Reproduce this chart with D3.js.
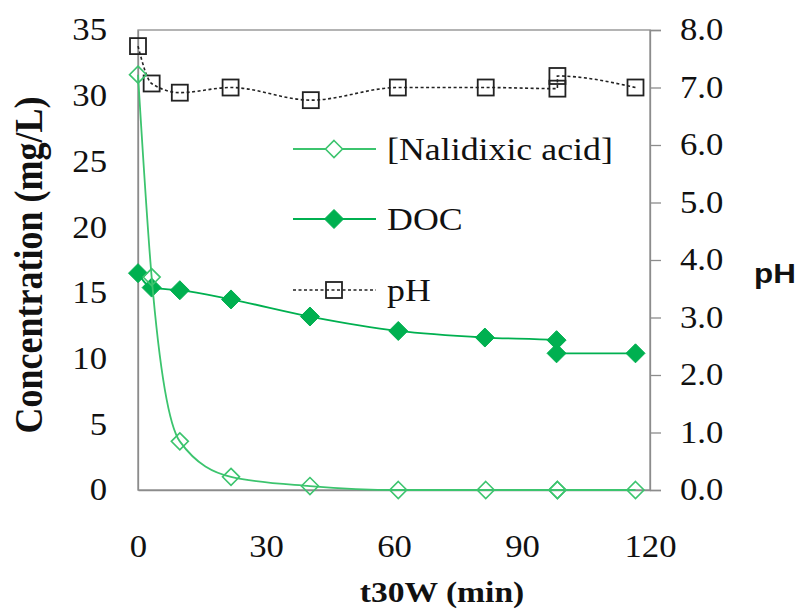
<!DOCTYPE html>
<html>
<head>
<meta charset="utf-8">
<script src="https://d3js.org/d3.v7.min.js"></script>
<style>
  body { margin: 0; background: #fff; }
</style>
</head>
<body>
<div id="chart"></div>
<script>
// sampling times (min)
var tNal = [0, 3.2, 9.8, 21.8, 40.3, 61, 81.5, 98.3, 98.3, 116.6];
var nal  = [31.6, 16.2, 3.7, 1.0, 0.3, 0, 0, 0, 0, 0];
var tDoc = [0, 3.2, 9.8, 21.8, 40.3, 61, 81.3, 98.1, 98.1, 116.6];
var doc  = [16.5, 15.4, 15.2, 14.5, 13.2, 12.1, 11.6, 11.4, 10.4, 10.4];
var tPh  = [0, 3.2, 9.8, 21.7, 40.5, 60.9, 81.5, 98.3, 98.3, 116.6];
var ph   = [7.72, 7.07, 6.91, 7.0, 6.78, 7.0, 7.0, 6.98, 7.2, 7.0];

var xTicks = [0, 30, 60, 90, 120];
var yTicks = [0, 5, 10, 15, 20, 25, 30, 35];
var phTicks = [0, 1, 2, 3, 4, 5, 6, 7, 8];
var legendNames = ["[Nalidixic acid]", "DOC", "pH"];

var W = 799, H = 609;
var m = {top: 30, right: 149, bottom: 120, left: 138};
var SX = 1.12; // text in the picture is a bit wide
var SERIF = "'Liberation Serif', 'Times New Roman', Times, serif";

var green = "#00b050", green2 = "#3cc46e", axisCol = "#8c8c8c";

var svg = d3.select("#chart").append("svg")
  .attr("width", W).attr("height", H);

var x = d3.scaleLinear().domain([0, 120]).range([m.left, W - m.right]);
var y = d3.scaleLinear().domain([0, 35]).range([H - m.bottom + 1, m.top]);
var y2 = d3.scaleLinear().domain([0, 8]).range([H - m.bottom + 1, m.top]);

function serifText(sel, size) {
  sel.style("font-family", SERIF).style("font-size", size + "px").attr("fill", "#111");
}

// plot frame
svg.append("rect")
  .attr("x", x(0)).attr("y", y(35))
  .attr("width", x(120) - x(0)).attr("height", y(0) - y(35))
  .attr("fill", "none").attr("stroke", axisCol).attr("stroke-width", 1.3);

// left axis
var gl = svg.append("g").attr("transform", "translate(" + x(0) + ",0)")
  .call(d3.axisLeft(y).tickValues(yTicks).tickSize(0));
gl.select(".domain").attr("stroke", axisCol).attr("stroke-width", 1.3);
gl.selectAll("text").call(serifText, 31)
  .attr("x", -31 / SX).attr("transform", "scale(" + SX + ",1)");

// right axis
var gr = svg.append("g").attr("transform", "translate(" + x(120) + ",0)")
  .call(d3.axisRight(y2).tickValues(phTicks).tickFormat(d3.format(".1f")).tickSize(11));
gr.select(".domain").attr("stroke", axisCol).attr("stroke-width", 1.3);
gr.selectAll("line").attr("stroke", axisCol).attr("stroke-width", 1.3);
gr.selectAll("text").call(serifText, 31)
  .attr("x", 30 / SX).attr("transform", "scale(" + SX + ",1)");

// bottom axis
var gb = svg.append("g").attr("transform", "translate(0," + y(0) + ")")
  .call(d3.axisBottom(x).tickValues(xTicks).tickSize(0));
gb.select(".domain").attr("stroke", axisCol).attr("stroke-width", 1.3);
gb.selectAll("text").call(serifText, 31)
  .attr("y", 56).attr("dy", "0.35em").attr("transform", "scale(" + SX + ",1)");

// titles
svg.append("text").call(serifText, 36)
  .attr("transform", "translate(28,265) scale(" + SX + ",1) rotate(-90)")
  .attr("text-anchor", "middle").attr("dy", "0.35em")
  .style("font-weight", "bold")
  .text("Concentration (mg/L)");

svg.append("text").call(serifText, 30)
  .attr("transform", "translate(442,602) scale(" + SX + ",1)")
  .attr("text-anchor", "middle")
  .style("font-weight", "bold")
  .text("t30W (min)");

svg.append("text")
  .attr("transform", "translate(775,273) scale(" + SX + ",1)")
  .attr("text-anchor", "middle").attr("dy", "0.35em")
  .style("font-family", "'Liberation Sans', Arial, sans-serif")
  .style("font-size", "28px").style("font-weight", "bold").attr("fill", "#111")
  .text("pH");

// series
var nalData = tNal.map(function(t, i) { return [t, nal[i]]; });
var docData = tDoc.map(function(t, i) { return [t, doc[i]]; });
var phData  = tPh.map(function(t, i) { return [t, ph[i]]; });

var lineL = d3.line().x(function(d) { return x(d[0]); }).y(function(d) { return y(d[1]); })
  .curve(d3.curveMonotoneX);
var lineR = d3.line().x(function(d) { return x(d[0]); }).y(function(d) { return y2(d[1]); })
  .curve(d3.curveMonotoneX);

var diamond = function(r) { return "M0," + (-r) + "L" + r + ",0L0," + r + "L" + (-r) + ",0Z"; };

// pH
svg.append("path").datum(phData).attr("d", lineR)
  .attr("fill", "none").attr("stroke", "#222").attr("stroke-width", 1.6)
  .attr("stroke-dasharray", "3,2.5");
svg.append("g").selectAll("rect").data(phData).join("rect")
  .attr("x", function(d) { return x(d[0]) - 8; })
  .attr("y", function(d) { return y2(d[1]) - 8; })
  .attr("width", 16).attr("height", 16)
  .attr("fill", "none").attr("stroke", "#222").attr("stroke-width", 1.8);

// DOC
svg.append("path").datum(docData).attr("d", lineL)
  .attr("fill", "none").attr("stroke", green).attr("stroke-width", 1.8);
svg.append("g").selectAll("path").data(docData).join("path")
  .attr("transform", function(d) { return "translate(" + x(d[0]) + "," + y(d[1]) + ")"; })
  .attr("d", diamond(9.5)).attr("fill", green).attr("stroke", green);

// Nalidixic acid
svg.append("path").datum(nalData).attr("d", lineL)
  .attr("fill", "none").attr("stroke", green2).attr("stroke-width", 1.8);
svg.append("g").selectAll("path").data(nalData).join("path")
  .attr("transform", function(d) { return "translate(" + x(d[0]) + "," + y(d[1]) + ")"; })
  .attr("d", diamond(8.5)).attr("fill", "none").attr("stroke", green2).attr("stroke-width", 1.6);

// legend
var legY = [149, 219, 290];
var lg = svg.append("g").selectAll("g").data(legendNames).join("g")
  .attr("transform", function(d, i) { return "translate(293," + legY[i] + ")"; });
lg.append("line").attr("x1", 0).attr("x2", 83)
  .attr("stroke", function(d, i) { return i == 2 ? "#222" : (i == 0 ? green2 : green); })
  .attr("stroke-width", function(d, i) { return i == 2 ? 1.4 : 1.8; })
  .attr("stroke-dasharray", function(d, i) { return i == 2 ? "3,2.5" : null; });
lg.filter(function(d, i) { return i == 0; }).append("path").attr("transform", "translate(41,0)")
  .attr("d", diamond(8.5)).attr("fill", "#fff").attr("stroke", green2).attr("stroke-width", 1.6);
lg.filter(function(d, i) { return i == 1; }).append("path").attr("transform", "translate(41,0)")
  .attr("d", diamond(9.5)).attr("fill", green).attr("stroke", green);
lg.filter(function(d, i) { return i == 2; }).append("rect")
  .attr("x", 33).attr("y", -8).attr("width", 16).attr("height", 16)
  .attr("fill", "none").attr("stroke", "#222").attr("stroke-width", 1.8);
lg.append("text").call(serifText, 32)
  .attr("transform", "translate(94,0) scale(" + SX + ",1)")
  .attr("dy", "0.35em")
  .text(function(d) { return d; });
</script>
</body>
</html>
